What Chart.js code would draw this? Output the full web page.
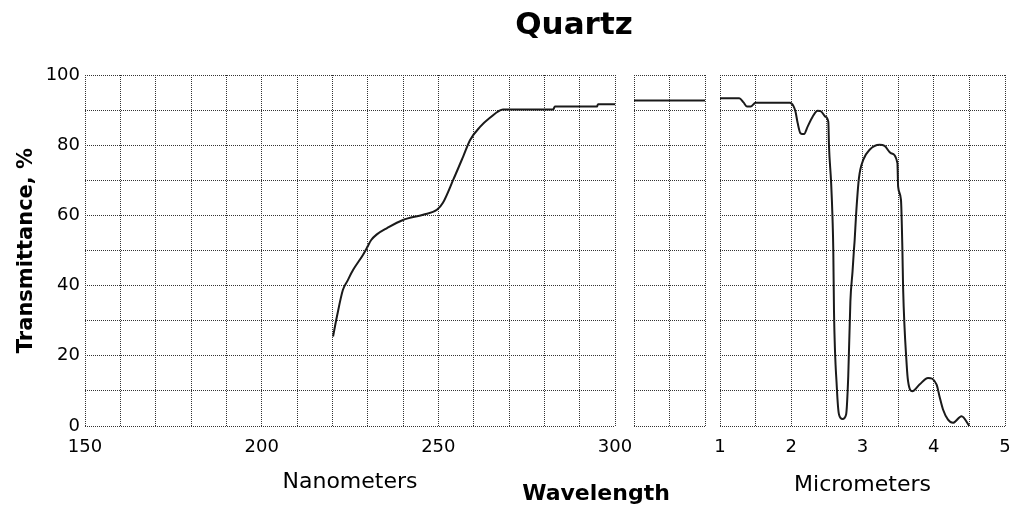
<!DOCTYPE html>
<html>
<head>
<meta charset="utf-8">
<title>Quartz</title>
<script src="https://cdn.jsdelivr.net/npm/chart.js@4/dist/chart.umd.min.js"></script>
<style>
  html, body { margin: 0; padding: 0; background: #fff; }
  #wrap { position: relative; width: 1013px; height: 511px; overflow: hidden; }
  #wrap canvas { position: absolute; left: 0; top: 0; }
  .label { position: absolute; font-family: "DejaVu Sans"; font-weight: bold; color: #000; white-space: nowrap; text-align: center; }
</style>
</head>
<body>
<div id="wrap">
  <canvas id="nm-chart" width="1013" height="511"></canvas>
  <canvas id="mid-chart" width="1013" height="511"></canvas>
  <!-- a bit wider than the page so the "5" label does not push the plot area in -->
  <canvas id="um-chart" width="1040" height="511"></canvas>
  <div class="label" id="chart-title" style="left:474px; width:200px; top:8px; font-size:31px; line-height:31px;">Quartz</div>
  <div class="label" id="wave-title" style="left:496px; width:200px; top:482px; font-size:22px; line-height:22px;">Wavelength</div>
</div>
<script>
// values (transmittance in %)
const nmWave  = [220.2, 221.3, 223, 224.2, 225.9, 228.7, 229.8, 231, 232.6, 235.5, 240, 245.7, 249.6, 251.3, 254.2, 257, 259, 261.8, 264.6, 268.3, 282.5, 283, 294.9, 295.2, 300];
const nmTrans = [25.5, 31.2, 38.8, 41.2, 44.5, 48.8, 50.8, 53.0, 54.6, 56.4, 58.7, 60.2, 61.6, 63.6, 70.1, 76.7, 81.5, 85.2, 87.8, 90.2, 90.2, 91.0, 91.0, 91.7, 91.7];

// middle (unlabelled) panel, 300 nm .. 1 um
const midWave  = [300, 1000];
const midTrans = [92.7, 92.7];

const umWave  = [1.00, 1.27, 1.33, 1.38, 1.43, 1.50, 1.98, 2.03, 2.06, 2.09, 2.13, 2.18, 2.23, 2.30, 2.37, 2.42, 2.48, 2.52,
                 2.53, 2.56, 2.58, 2.59, 2.60, 2.64, 2.67, 2.72, 2.77, 2.80, 2.83, 2.86, 2.88, 2.89, 2.91, 2.95, 3.01, 3.10,
                 3.24, 3.31, 3.40, 3.49, 3.50, 3.54, 3.56, 3.57, 3.62, 3.64, 3.70, 3.80, 3.92, 4.04, 4.08, 4.13, 4.20, 4.27, 4.39, 4.50];
const umTrans = [93.4, 93.4, 92.2, 91.0, 91.0, 92.1, 92.1, 91.2, 89.5, 86.3, 83.4, 83.2, 85.3, 88.1, 89.8, 89.6, 88.1, 86.7,
                 79.6, 69.2, 58.7, 50.2, 32.7, 10.9, 3.3, 2.0, 3.3, 14.2, 35.5, 44.0, 50.2, 53.0, 60.2, 70.6, 75.8, 78.7,
                 80.1, 79.8, 77.7, 74.9, 68.2, 64.4, 50.2, 39.3, 17.5, 12.7, 9.9, 11.8, 13.7, 11.8, 8.5, 4.7, 1.8, 0.9, 2.8, 0];

const yTicks  = [0, 20, 40, 60, 80, 100];
const nmTicks = [150, 200, 250, 300];
const umTicks = [1, 2, 3, 4, 5];

const gridColor = '#333';
Chart.defaults.font.family = 'DejaVu Sans';
Chart.defaults.color = '#000';

// one chart per panel, all on full-size canvases stacked on top of each other
function makePanel(canvasId, wave, trans, cfg) {
  const points = wave.map((x, i) => ({ x: x, y: trans[i] }));

  return new Chart(document.getElementById(canvasId), {
    type: 'line',
    data: {
      datasets: [{
        data: points,
        borderColor: '#1a1a1a',
        borderWidth: 2,
        pointRadius: 0,
        fill: false,
        cubicInterpolationMode: 'monotone'
      }]
    },
    options: {
      responsive: false,
      animation: false,
      devicePixelRatio: 1,
      layout: { padding: { left: cfg.left, right: cfg.right, top: 75, bottom: 0 } },
      plugins: { legend: { display: false }, tooltip: { enabled: false } },
      scales: {
        x: {
          type: 'linear',
          min: cfg.min,
          max: cfg.max,
          afterFit: (s) => { s.height = 85; },
          border: { display: false, dash: [1, 1] },
          grid: { color: gridColor, lineWidth: 1, drawTicks: false },
          ticks: {
            display: cfg.xLabels.length > 0,
            stepSize: cfg.step,
            autoSkip: false,
            maxRotation: 0,
            padding: 11,
            font: { size: 18 },
            callback: (v) => cfg.xLabels.includes(v) ? String(v) : ''
          },
          title: {
            display: !!cfg.unit,
            text: cfg.unit || '',
            font: { size: 22 },
            padding: { top: 0, bottom: cfg.unitPad || 0 }
          }
        },
        y: {
          min: 0,
          max: 100,
          afterFit: (s) => { s.width = cfg.yWidth; },
          border: { display: false, dash: [1, 1] },
          grid: { color: gridColor, lineWidth: 1, drawTicks: false },
          ticks: {
            display: cfg.yLabels,
            stepSize: 10,
            padding: 5,
            font: { size: 18 },
            callback: (v) => yTicks.includes(v) ? String(v) : ''
          },
          title: {
            display: cfg.yLabels,
            text: 'Transmittance, %',
            font: { size: 21, weight: 'bold' },
            padding: { top: 14, bottom: 0 }
          }
        }
      }
    }
  });
}

makePanel('nm-chart', nmWave, nmTrans, {
  left: 0, right: 398, yWidth: 85, yLabels: true,
  min: 150, max: 300, step: 10, xLabels: nmTicks,
  unit: 'Nanometers', unitPad: 16
});

makePanel('mid-chart', midWave, midTrans, {
  left: 634, right: 308, yWidth: 0, yLabels: false,
  min: 300, max: 1000, step: 350, xLabels: []
});

// canvas is 1040 wide, so right padding 35 puts the 5 um line at x = 1005
makePanel('um-chart', umWave, umTrans, {
  left: 720, right: 35, yWidth: 0, yLabels: false,
  min: 1, max: 5, step: 0.5, xLabels: umTicks,
  unit: 'Micrometers', unitPad: 13
});
</script>
</body>
</html>
